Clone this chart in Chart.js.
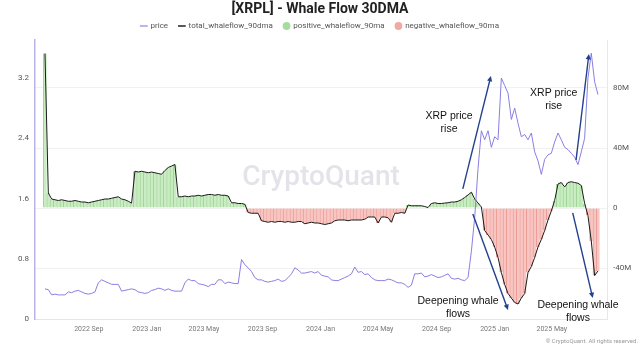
<!DOCTYPE html>
<html><head><meta charset="utf-8">
<script src="https://cdn.jsdelivr.net/npm/chart.js@4.4.1/dist/chart.umd.min.js"></script>
<style>html,body{margin:0;padding:0;background:#fff;}canvas{display:block;}</style>
</head><body>
<canvas id="c" width="640" height="351"></canvas>
<script>
// ---- data (weekly samples, day 0 = 2022-06-01) ----
const dayStep = 7;
const price = [
0.40,0.39,0.32,0.33,0.32,0.32,0.32,0.36,0.35,0.37,
0.38,0.36,0.34,0.33,0.34,0.36,0.48,0.52,0.50,0.48,
0.46,0.46,0.46,0.37,0.38,0.39,0.40,0.39,0.36,0.35,
0.34,0.35,0.38,0.39,0.41,0.40,0.38,0.40,0.38,0.37,
0.37,0.37,0.48,0.53,0.51,0.51,0.47,0.46,0.45,0.43,
0.46,0.46,0.52,0.52,0.47,0.49,0.48,0.47,0.47,0.79,
0.72,0.68,0.63,0.55,0.52,0.52,0.50,0.49,0.50,0.51,
0.53,0.50,0.51,0.55,0.60,0.68,0.65,0.61,0.61,0.62,
0.63,0.61,0.63,0.58,0.57,0.56,0.52,0.51,0.51,0.53,
0.55,0.57,0.60,0.69,0.62,0.63,0.59,0.60,0.55,0.52,
0.51,0.51,0.51,0.53,0.52,0.50,0.48,0.48,0.46,0.42,
0.45,0.60,0.60,0.61,0.56,0.57,0.59,0.57,0.55,0.56,
0.58,0.60,0.54,0.53,0.54,0.52,0.51,0.55,0.90,1.35,
2.00,2.50,2.38,2.50,2.28,2.42,2.38,3.20,3.10,3.00,
2.65,2.80,2.60,2.42,2.45,2.38,2.47,2.22,2.10,1.92,
2.12,2.18,2.20,2.35,2.47,2.38,2.28,2.25,2.20,2.15,
2.05,2.22,2.40,3.20,3.53,3.15,2.98
];
const totalFlow = [
103,10,6,5.5,5,5.5,5,4.5,4.5,5,
4.5,4,4,3.5,4,4.5,5,5.5,6,6,
6.5,7,7.5,6,5.5,4.5,3.2,24.5,24,24.5,
24,23.5,24,23.5,23,22.5,25,27,28,29,
7.5,7.5,8,7.5,8,8,8.5,8,8.5,9,
9,8.5,9,8.5,8.5,8,3.5,3.5,3,3,
2.5,-3,-3.5,-3.5,-3.5,-8.5,-9,-9.5,-9,-9.5,
-9,-9,-9.5,-9,-9.5,-9.5,-9,-9,-10.5,-10,
-9.5,-10,-10,-10.5,-11,-10.5,-10,-8.5,-8,-8,
-8,-8.5,-8,-8,-8,-8,-7.5,-6,-6,-6,
-10,-6,-6,-6.5,-9.5,-3.5,-3.5,-3,-3.5,2,
1.5,1.5,1.5,1.5,1.0,0.3,3,3.5,3,3,
3.3,3.5,4,4,4.5,5.5,7,8.7,10.5,6,
3.3,0.7,-15,-18,-21,-26,-33,-43,-51,-57,
-60,-63,-64,-60,-57,-43,-39,-33,-26,-21,
-15,-8,-2,5,16,17,14,17,17.5,17,
16.5,15,3,-5,-22,-45,-42
];
const xTickDays = [92,214,334,457,579,700,823,945,1065];
const xTickLabels = ['2022 Sep','2023 Jan','2023 May','2023 Sep','2024 Jan','2024 May','2024 Sep','2025 Jan','2025 May'];
const priceTicks = [0,0.8,1.6,2.4,3.2];
const flowTicks = [-40,0,40,80];

// ---- build library structures ----
const days = price.map((_, i) => i * dayStep);
const pricePts = price.map((v, i) => ({x: days[i], y: v}));
const totalPts = totalFlow.map((v, i) => ({x: days[i], y: v}));
const posPts = totalFlow.map((v, i) => ({x: days[i], y: v > 0 ? v : null}));
const negPts = totalFlow.map((v, i) => ({x: days[i], y: v < 0 ? v : null}));

// annotations in data coordinates (x: day, y: right-axis value in M)
const arrows = [
  {from: [878, 12.7], to: [937, 88]},
  {from: [1116, 32], to: [1143, 102.7]},
  {from: [899, -4], to: [973, -68]},
  {from: [1109, -3.3], to: [1151, -60]}
];
const notes = [
  {x: 849, y: [61.3, 52.7], lines: ['XRP price', 'rise']},
  {x: 1069, y: [76.7, 68], lines: ['XRP price', 'rise']},
  {x: 868, y: [-62, -70.7], lines: ['Deepening whale', 'flows']},
  {x: 1120, y: [-64.7, -73.3], lines: ['Deepening whale', 'flows']}
];

const watermark = {
  id: 'watermark',
  beforeDatasetsDraw(chart) {
    const {ctx, chartArea: a} = chart;
    ctx.save();
    ctx.font = '500 28px Roboto';
    ctx.fillStyle = 'rgba(200,200,212,0.5)';
    ctx.textAlign = 'center';
    ctx.textBaseline = 'middle';
    ctx.fillText('CryptoQuant', (a.left + a.right) / 2, 178);
    ctx.restore();
  }
};
const annot = {
  id: 'annot',
  afterDatasetsDraw(chart) {
    const {ctx, scales} = chart;
    const X = scales.x, Y = scales.y1;
    ctx.save();
    ctx.strokeStyle = '#23408e';
    ctx.fillStyle = '#23408e';
    ctx.lineWidth = 1.4;
    arrows.forEach(a => {
      const x1 = X.getPixelForValue(a.from[0]), y1 = Y.getPixelForValue(a.from[1]);
      const x2 = X.getPixelForValue(a.to[0]), y2 = Y.getPixelForValue(a.to[1]);
      const ang = Math.atan2(y2 - y1, x2 - x1);
      const hl = 6;
      ctx.beginPath();
      ctx.moveTo(x1, y1);
      ctx.lineTo(x2 - Math.cos(ang) * hl * 0.8, y2 - Math.sin(ang) * hl * 0.8);
      ctx.stroke();
      ctx.beginPath();
      ctx.moveTo(x2, y2);
      ctx.lineTo(x2 - hl * Math.cos(ang - 0.45), y2 - hl * Math.sin(ang - 0.45));
      ctx.lineTo(x2 - hl * Math.cos(ang + 0.45), y2 - hl * Math.sin(ang + 0.45));
      ctx.closePath();
      ctx.fill();
    });
    ctx.fillStyle = '#111';
    ctx.font = '10.5px "Liberation Sans", Arial, sans-serif';
    ctx.textAlign = 'center';
    ctx.textBaseline = 'middle';
    notes.forEach(n => {
      const x = X.getPixelForValue(n.x);
      n.lines.forEach((t, k) => ctx.fillText(t, x, Y.getPixelForValue(n.y[k])));
    });
    ctx.restore();
  },
  afterDraw(chart) {
    const {ctx} = chart;
    ctx.save();
    ctx.font = '6px Roboto';
    ctx.fillStyle = '#999';
    ctx.textAlign = 'right';
    ctx.textBaseline = 'middle';
    ctx.fillText('\u00A9 CryptoQuant. All rights reserved.', 638, 341);
    ctx.restore();
  }
};

new Chart(document.getElementById('c'), {
  data: {
    datasets: [
      {type: 'line', label: 'price', data: pricePts, yAxisID: 'y', borderColor: 'rgba(132,120,224,0.95)', legendColor: '#a49de6', borderWidth: 1, pointRadius: 0, tension: 0, order: 0},
      {type: 'line', label: 'total_whaleflow_90dma', data: totalPts, yAxisID: 'y1', borderColor: '#1a1a1a', legendColor: '#222', borderWidth: 1, pointRadius: 0, tension: 0, order: 1},
      {type: 'bar', label: 'positive_whaleflow_90ma', data: posPts, yAxisID: 'y1', backgroundColor: '#c9ecc2', borderColor: '#9fd596', borderWidth: {left: 1, right: 0, top: 0, bottom: 0}, borderSkipped: false, legendColor: '#a6dc9d', grouped: false, barPercentage: 1, categoryPercentage: 1, order: 2},
      {type: 'bar', label: 'negative_whaleflow_90ma', data: negPts, yAxisID: 'y1', backgroundColor: '#f8c6c2', borderColor: '#ee9d96', borderWidth: {left: 1, right: 0, top: 0, bottom: 0}, borderSkipped: false, legendColor: '#f2a9a3', grouped: false, barPercentage: 1, categoryPercentage: 1, order: 3}
    ]
  },
  options: {
    responsive: false,
    devicePixelRatio: 1,
    animation: false,
    layout: {padding: 0},
    plugins: {
      tooltip: {enabled: false},
      title: {display: true, text: '[XRPL] - Whale Flow 30DMA', color: '#222', font: {family: 'Roboto', size: 14, weight: 'bold'}, padding: {top: 1, bottom: -6.8}},
      legend: {
        display: true,
        labels: {
          usePointStyle: true, boxWidth: 5.5, boxHeight: 5.5, padding: 11,
          color: '#555', font: {family: 'Roboto', size: 8},
          generateLabels: (chart) => chart.data.datasets.map((ds, i) => ({
            text: ds.label,
            fillStyle: ds.legendColor,
            strokeStyle: ds.legendColor,
            lineWidth: ds.type === 'line' ? 1.5 : 0,
            pointStyle: ds.type === 'line' ? 'line' : 'circle',
            hidden: false,
            datasetIndex: i,
            fontColor: '#555'
          }))
        }
      }
    },
    scales: {
      x: {
        type: 'linear', min: -21, max: 1181, offset: false,
        grid: {display: false, drawTicks: false, offset: false},
        border: {display: true, color: '#e6e6e6'},
        afterBuildTicks: (s) => { s.ticks = xTickDays.map(v => ({value: v})); },
        afterFit: (s) => { s.height = 32; },
        ticks: {padding: 6, maxRotation: 0, autoSkip: false, color: '#777', font: {family: 'Roboto', size: 7},
          callback: (v, i) => xTickLabels[i]}
      },
      y: {
        type: 'linear', position: 'left', min: 0, max: 3.705,
        grid: {display: false, drawTicks: false},
        border: {display: true, color: '#bab5e8', width: 1.5},
        afterBuildTicks: (s) => { s.ticks = priceTicks.map(v => ({value: v})); },
        afterFit: (s) => { s.width = 35; },
        ticks: {padding: 6, color: '#555', font: {family: 'Roboto', size: 8}, callback: (v) => String(v)}
      },
      y1: {
        type: 'linear', position: 'right', min: -74, max: 112,
        grid: {display: true, drawTicks: false, color: '#f1f1f1', lineWidth: 1},
        border: {display: true, color: '#e8e8e8'},
        afterBuildTicks: (s) => { s.ticks = flowTicks.map(v => ({value: v})); },
        afterFit: (s) => { s.width = 33; },
        ticks: {padding: 6, color: '#555', font: {family: 'Roboto', size: 8}, callback: (v) => v === 0 ? '0' : v + 'M'}
      }
    }
  },
  plugins: [watermark, annot]
});
</script>
</body></html>
